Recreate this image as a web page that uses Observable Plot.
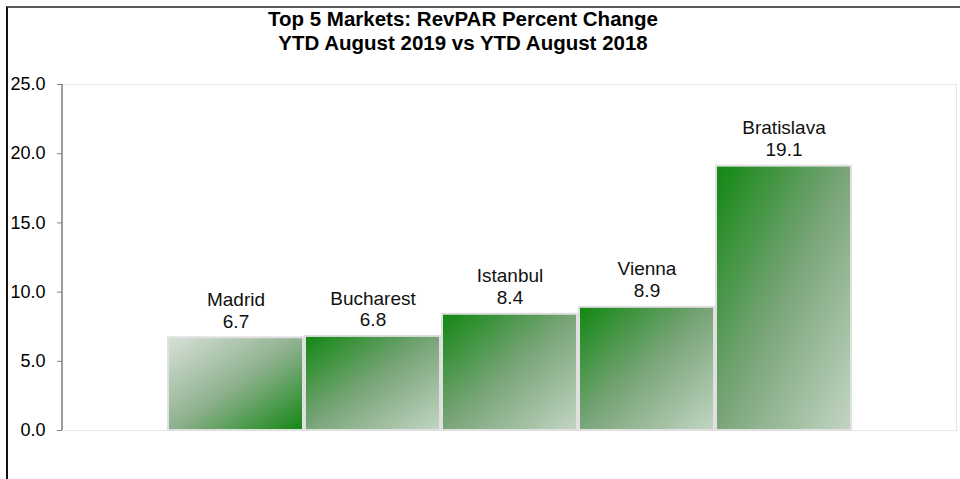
<!DOCTYPE html>
<html>
<head>
<meta charset="utf-8">
<script src="https://cdn.jsdelivr.net/npm/d3@7"></script>
<script src="https://cdn.jsdelivr.net/npm/@observablehq/plot@0.6"></script>
<style>
  html, body { margin: 0; padding: 0; background: #fff; }
  body { width: 960px; height: 479px; position: relative; overflow: hidden; font-family: "Liberation Sans", Arial, sans-serif; }
  #border { position: absolute; left: 6px; top: 6px; width: 1000px; height: 1000px; border-left: 2px solid #111; border-top: 2px solid #5a5a5a; }
  #title { position: absolute; left: 0; top: 7px; width: 926px; text-align: center; font-weight: bold; font-size: 20.5px; line-height: 24px; color: #000; }
  #chart { position: absolute; left: 0; top: 60px; }
</style>
</head>
<body>
<div id="border"></div>
<div id="title">Top 5 Markets: RevPAR Percent Change<br>YTD August 2019 vs YTD August 2018</div>
<div id="chart"></div>
<script>
const cities = ["Madrid", "Bucharest", "Istanbul", "Vienna", "Bratislava"];
const revparChange = [6.7, 6.8, 8.4, 8.9, 19.1];
const yTicks = [0, 5, 10, 15, 20, 25];

const data = cities.map((city, i) => ({city, value: revparChange[i]}));

const plot = Plot.plot({
  width: 960,
  height: 419,
  marginTop: 24,
  marginBottom: 49,
  marginLeft: 62,
  marginRight: 4,
  style: {fontFamily: "'Liberation Sans', Arial, sans-serif", fontSize: "18px", color: "#000", background: "transparent", overflow: "visible"},
  x: {domain: cities, paddingInner: 0.015, paddingOuter: 0.75, axis: null},
  y: {domain: [0, 25]},
  marks: [
    Plot.frame({stroke: "#cfcfcf", strokeDasharray: "1,1"}),
    Plot.axisY({ticks: yTicks, tickFormat: d3.format(".1f"), tickSize: 5, tickPadding: 12, stroke: "#808080", label: null, fontSize: 18}),
    Plot.barY(data, {x: "city", y: "value", filter: d => d.city === "Madrid", fill: "url(#gradLight)", stroke: "#e0e0e0", strokeWidth: 2}),
    Plot.barY(data, {x: "city", y: "value", filter: d => d.city !== "Madrid", fill: "url(#gradDark)", stroke: "#e0e0e0", strokeWidth: 2}),
    Plot.text(data, {x: "city", y: "value", text: d => `${d.city}\n${d.value.toFixed(1)}`, lineAnchor: "bottom", dy: -10, lineHeight: 1.15, fontSize: 19, fill: "#111"})
  ]
});

const svg = d3.select(plot);
const defs = svg.insert("defs", ":first-child");
function grad(id, stops) {
  const g = defs.append("linearGradient").attr("id", id)
    .attr("x1", 0).attr("y1", 0).attr("x2", 1).attr("y2", 1);
  stops.forEach(([o, c]) => g.append("stop").attr("offset", o).attr("stop-color", c));
}
grad("gradDark", [["0%", "#118711"], ["50%", "#7aa57a"], ["100%", "#c3d5c3"]]);
grad("gradLight", [["0%", "#d8e1d8"], ["50%", "#8fb18f"], ["100%", "#138713"]]);

// y axis line
const xs = plot.scale("x"), ys = plot.scale("y");
svg.append("line")
  .attr("x1", xs.range[0]).attr("x2", xs.range[0])
  .attr("y1", ys.range[0]).attr("y2", ys.range[1])
  .attr("stroke", "#808080").attr("stroke-width", 1.5);

document.getElementById("chart").appendChild(plot);
</script>
</body>
</html>
